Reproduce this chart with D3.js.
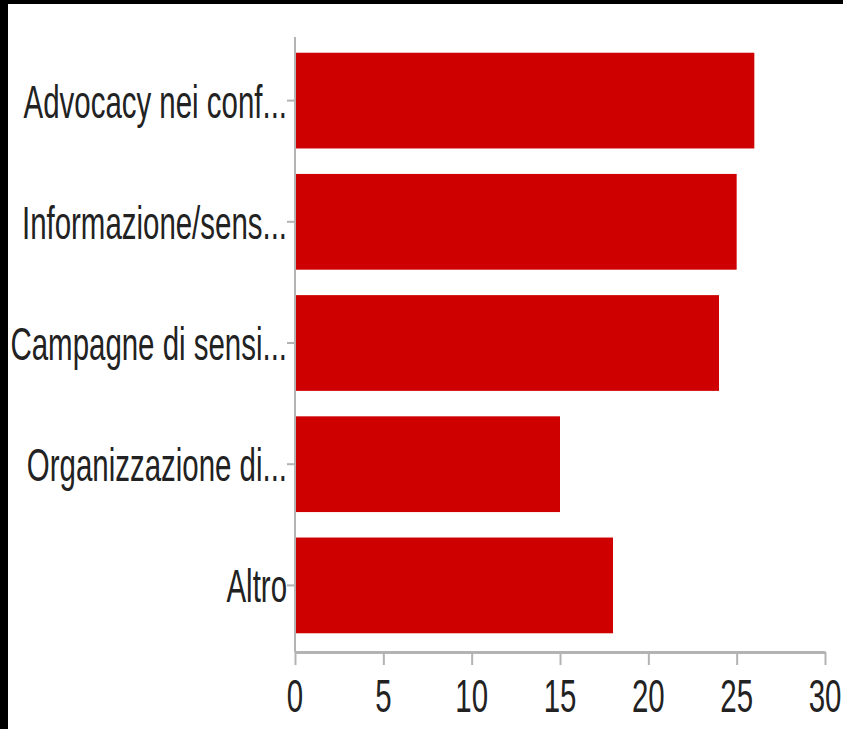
<!DOCTYPE html>
<html>
<head>
<meta charset="utf-8">
<script src="https://cdn.jsdelivr.net/npm/d3@7"></script>
<style>
  body { margin: 0; background: #000; }
  svg { display: block; }
</style>
</head>
<body>
<div id="chart"></div>
<script>
var categories = ["Advocacy nei conf...", "Informazione/sens...", "Campagne di sensi...", "Organizzazione di...", "Altro"]
var values = [26, 25, 24, 15, 18]
var xTicks = [0, 5, 10, 15, 20, 25, 30]

function drawChart() {
    var width = 843
    var height = 729
    var sx = 0.64  // labels are squeezed horizontally

    var svg = d3.select("#chart")
        .append("svg")
        .attr("width", width)
        .attr("height", height)

    // black frame on top and left, white page
    svg.append("rect").attr("width", width).attr("height", height).attr("fill", "#000")
    svg.append("rect").attr("x", 8).attr("y", 4)
        .attr("width", width - 8).attr("height", height - 4).attr("fill", "#fff")

    var x = d3.scaleLinear().domain([0, 30]).range([295, 825])
    var y = d3.scaleBand().domain(categories).range([40, 646])
        .paddingInner(0.21).paddingOuter(0.105)

    svg.append("g")
        .selectAll("rect")
        .data(values)
        .join("rect")
        .attr("x", x(0) + 1)
        .attr("y", (d, i) => y(categories[i]))
        .attr("width", d => x(d) - x(0) - 1)
        .attr("height", y.bandwidth())
        .attr("fill", "#cf0000")

    // y axis
    var yAxis = svg.append("g")
        .attr("transform", "translate(" + x(0) + ",0)")
        .call(d3.axisLeft(y).tickSize(8).tickSizeOuter(0).tickFormat(""))
    yAxis.select(".domain").remove()
    yAxis.selectAll("line").attr("stroke", "#b3b3b3").attr("stroke-width", 2)
    svg.append("line")
        .attr("x1", x(0)).attr("x2", x(0))
        .attr("y1", 37).attr("y2", 652)
        .attr("stroke", "#b3b3b3").attr("stroke-width", 2)

    svg.append("g")
        .selectAll("text")
        .data(categories)
        .join("text")
        .attr("transform", d => "translate(287," + (y(d) + y.bandwidth() / 2 + 17) + ") scale(" + sx + ",1)")
        .attr("text-anchor", "end")
        .attr("font-family", "Liberation Sans, Arial, sans-serif")
        .attr("font-size", 46)
        .attr("fill", "#222")
        .text(d => d)

    // x axis
    var xAxis = svg.append("g")
        .attr("transform", "translate(0,652)")
        .call(d3.axisBottom(x).tickValues(xTicks).tickSize(13).tickSizeOuter(0).tickFormat(""))
    xAxis.select(".domain").attr("stroke", "#b3b3b3").attr("stroke-width", 3)
    xAxis.selectAll("line").attr("stroke", "#b3b3b3").attr("stroke-width", 2)

    svg.append("g")
        .selectAll("text")
        .data(xTicks)
        .join("text")
        .attr("transform", d => "translate(" + x(d) + ",712) scale(" + sx + ",1)")
        .attr("text-anchor", "middle")
        .attr("font-family", "Liberation Sans, Arial, sans-serif")
        .attr("font-size", 46)
        .attr("fill", "#222")
        .text(d => d)
}
drawChart()
</script>
</body>
</html>
